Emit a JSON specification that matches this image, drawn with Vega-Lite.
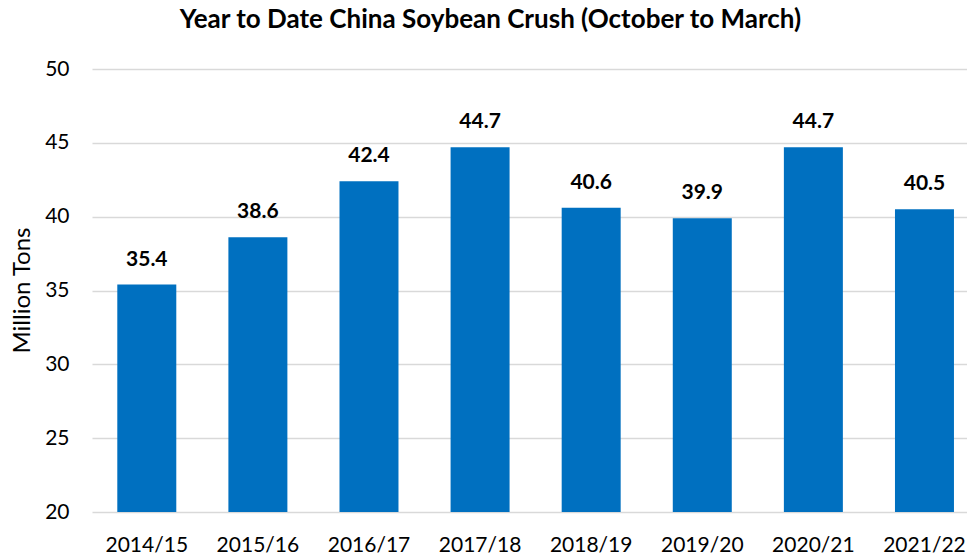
{
  "$schema": "https://vega.github.io/schema/vega-lite/v6.json",
  "width": 875,
  "height": 443,
  "autosize": {"type": "none"},
  "padding": {"left": 92, "top": 69, "right": 0, "bottom": 42},
  "background": "white",
  "title": {
    "text": "Year to Date China Soybean Crush (October to March)",
    "font": "Lato",
    "fontSize": 26,
    "fontWeight": "bold",
    "color": "black",
    "anchor": "middle",
    "dx": -39,
    "offset": 25
  },
  "data": {
    "values": [
      {"season": "2014/15", "crush": 35.4},
      {"season": "2015/16", "crush": 38.6},
      {"season": "2016/17", "crush": 42.4},
      {"season": "2017/18", "crush": 44.7},
      {"season": "2018/19", "crush": 40.6},
      {"season": "2019/20", "crush": 39.9},
      {"season": "2020/21", "crush": 44.7},
      {"season": "2021/22", "crush": 40.5}
    ]
  },
  "config": {
    "view": {"stroke": null},
    "font": "Lato"
  },
  "encoding": {
    "x": {
      "field": "season",
      "type": "nominal",
      "sort": null,
      "scale": {"paddingInner": 0.469, "paddingOuter": 0.1725, "align": 0.66},
      "axis": {
        "title": null,
        "labelAngle": 0,
        "labelFont": "Lato",
        "labelFontSize": 21,
        "labelColor": "black",
        "labelPadding": 22,
        "domain": false,
        "ticks": false,
        "grid": false
      }
    },
    "y": {
      "field": "crush",
      "type": "quantitative",
      "scale": {"domain": [20, 50], "zero": false, "nice": false},
      "axis": {
        "title": "Million Tons",
        "titleFont": "Lato",
        "titleFontSize": 24,
        "titleFontWeight": "normal",
        "titleColor": "black",
        "titleX": -70,
        "titleY": 221,
        "titleAngle": -90,
        "titleBaseline": "middle",
        "titleAlign": "center",
        "values": [20, 25, 30, 35, 40, 45, 50],
        "labelFont": "Lato",
        "labelFontSize": 21,
        "labelColor": "black",
        "labelPadding": 23,
        "domain": false,
        "ticks": false,
        "grid": true,
        "gridColor": "#d9d9d9",
        "gridWidth": 1.5
      }
    }
  },
  "layer": [
    {
      "mark": {"type": "bar", "color": "#0070C0", "clip": true}
    },
    {
      "mark": {
        "type": "text",
        "font": "Lato",
        "fontSize": 21,
        "fontWeight": "bold",
        "color": "black",
        "baseline": "alphabetic",
        "dy": -19
      },
      "encoding": {
        "text": {"field": "crush", "type": "quantitative", "format": ".1f"}
      }
    }
  ]
}
